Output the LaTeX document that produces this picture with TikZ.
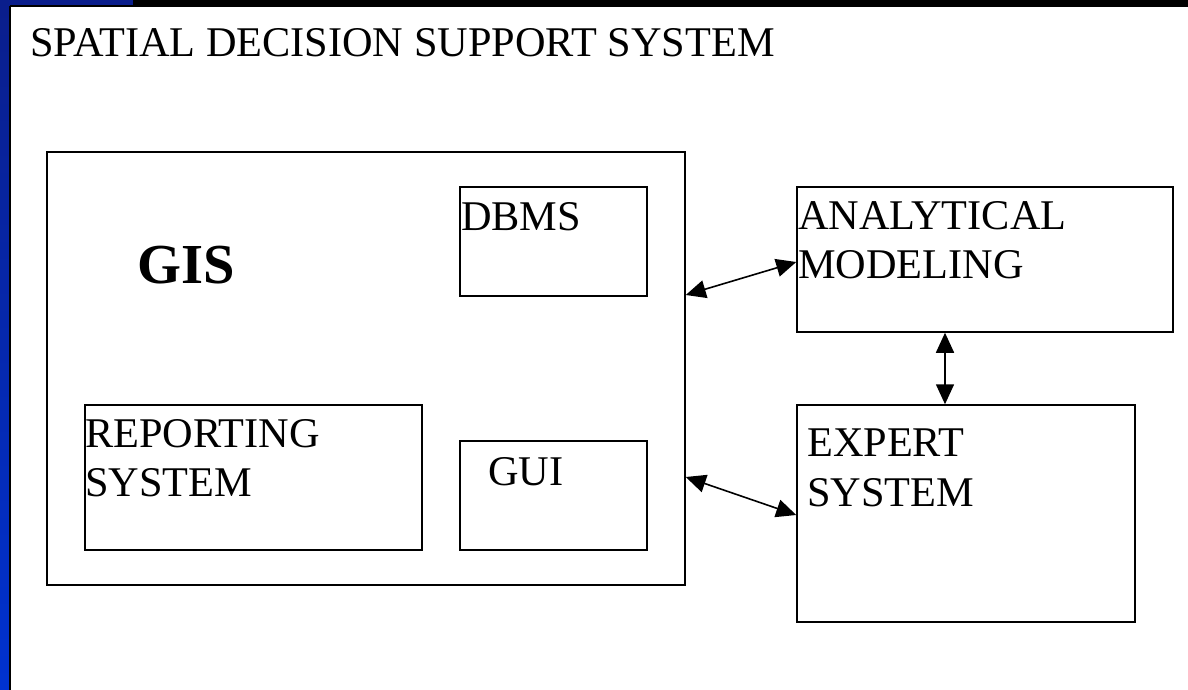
\documentclass[tikz,border=0pt]{standalone}
\usepackage{fontspec}
\setmainfont{Liberation Serif}
\usepackage{tikz}
\usetikzlibrary{arrows.meta}

\definecolor{slidenavy}{RGB}{10,30,140}
\definecolor{slideblue}{RGB}{0,50,208}

\tikzset{
  block/.style={draw, line width=1.5pt, inner sep=0pt},
  blocktext/.style={anchor=base west, inner sep=0pt, font=\fontsize{42.3pt}{50pt}\selectfont},
  biarrow/.style={{Triangle[length=20pt,width=18pt]}-{Triangle[length=20pt,width=18pt]}, line width=1.6pt}
}

\begin{document}
\begin{tikzpicture}[x=1pt, y=-1pt]
  \useasboundingbox (0,0) rectangle (1188,690);
  % slide frame
  \fill[white] (0,0) rectangle (1188,690);
  \shade[top color=slidenavy, bottom color=slideblue] (0,0) rectangle (9,690);
  \fill[slidenavy] (0,0) rectangle (133,6);
  \fill[black] (133,0) rectangle (1188,6);
  \draw[line width=2pt] (10,6.5) -- (1188,6.5);
  \draw[line width=2pt] (10,6.5) -- (10,690);

  \node[blocktext] (title) at (30,57) {SPATIAL DECISION SUPPORT SYSTEM};

  % boxes
  \node[block, minimum width=638pt, minimum height=433pt] (gis) at (366,368.5) {};
  \node[block, minimum width=187pt, minimum height=109pt] (dbms) at (553.5,241.5) {};
  \node[block, minimum width=337pt, minimum height=145pt] (report) at (253.5,477.5) {};
  \node[block, minimum width=187pt, minimum height=109pt] (gui) at (553.5,495.5) {};
  \node[block, minimum width=376pt, minimum height=145pt] (model) at (985,259.5) {};
  \node[block, minimum width=338pt, minimum height=217pt] (expert) at (966,513.5) {};

  % box texts
  \node[blocktext, font=\fontsize{56.5pt}{60pt}\selectfont\bfseries] (gisText) at (137,283) {GIS};
  \node[blocktext] (dbmsText) at (461,230) {DBMS};
  \node[blocktext] (reportA) at (85,447) {REPORTING};
  \node[blocktext] (reportB) at (85,496) {SYSTEM};
  \node[blocktext] (guiText) at (488,485) {GUI};
  \node[blocktext] (modelA) at (798,229) {ANALYTICAL};
  \node[blocktext] (modelB) at (798,278) {MODELING};
  \node[blocktext] (expertA) at (807,456) {EXPERT};
  \node[blocktext] (expertB) at (807,506) {SYSTEM};

  % links
  \draw[biarrow] (gis.east |- 0,295) -- (model.west |- 0,262);
  \draw[biarrow] (gis.east |- 0,477) -- (expert.west |- 0,515);
  \draw[biarrow] (model.south -| 945,0) -- (expert.north -| 945,0);
\end{tikzpicture}
\end{document}
